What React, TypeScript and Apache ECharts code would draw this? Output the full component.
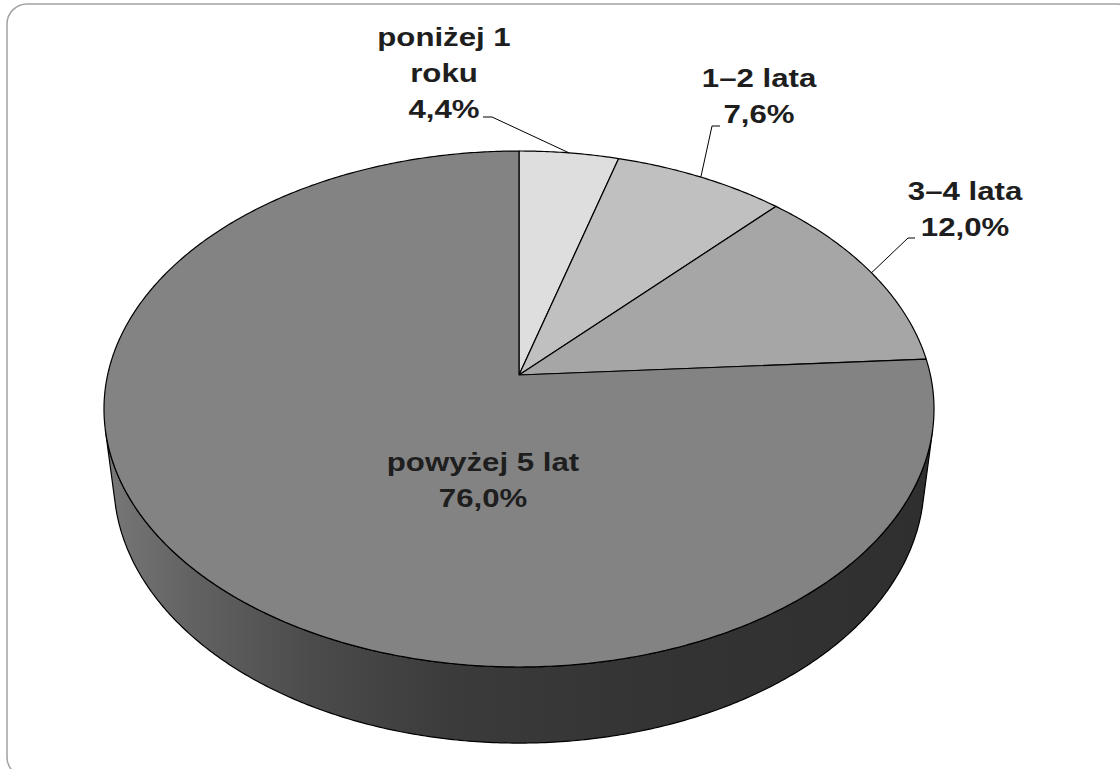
import React, { useEffect, useRef } from "react";
import * as echarts from "echarts";

// ---- data ----
const categories = ["poniżej 1\nroku", "1–2 lata", "3–4 lata", "powyżej 5 lat"];
const values = [4.4, 7.6, 12.0, 76.0];
const valueLabels = ["4,4%", "7,6%", "12,0%", "76,0%"];

// ---- styles / layout ----
const sliceColors = ["#dedede", "#c0c0c0", "#a6a6a6", "#838383"];
const labelCenters = [
  [444, 73],
  [759, 96],
  [965, 209],
  [483, 480],
];
const leaderElbows: (number[][] | null)[] = [
  [[483, 117], [492, 117]],
  [[720, 126], [712, 126]],
  [[915, 238], [908, 238]],
  null,
];

// ---- projection of a 3D disc (perspective camera) ----
const CX = 519;
const CY = 375;
const SIN_A = 0.6162;
const COS_A = 0.7876;
const Z0 = 5.976;
const F = 2458.5;
const DEPTH = 0.231;

function project(theta: number, bottom: boolean): number[] {
  const u = Math.sin(theta);
  const v = -Math.cos(theta);
  const yy = bottom ? -DEPTH : 0;
  const zc = Z0 - yy * SIN_A - v * COS_A;
  return [CX + (F * u) / zc, CY + (F * (v * SIN_A - yy * COS_A)) / zc];
}

function arc(a0: number, a1: number, bottom: boolean): number[][] {
  const pts: number[][] = [];
  const n = Math.max(2, Math.ceil(Math.abs(a1 - a0) / (Math.PI / 360)));
  for (let i = 0; i <= n; i++) {
    pts.push(project(a0 + ((a1 - a0) * i) / n, bottom));
  }
  return pts;
}

function sliceAngles(i: number): [number, number] {
  const total = values.reduce((s, x) => s + x, 0);
  let acc = 0;
  for (let j = 0; j < i; j++) acc += values[j];
  const a0 = (acc / total) * Math.PI * 2;
  const a1 = ((acc + values[i]) / total) * Math.PI * 2;
  return [a0, a1];
}

const FONT = 'bold 26px "Liberation Sans", Arial, sans-serif';

export default function App() {
  const ref = useRef<HTMLDivElement>(null);
  useEffect(() => {
    if (!ref.current) return;
    const chart = echarts.init(ref.current, undefined, { renderer: "svg" });

    // silhouette of the cylinder side
    const vSil = 1 / (Z0 * COS_A);
    const tR = Math.acos(-vSil);
    const tL = Math.PI * 2 - tR;

    const renderSide = () => {
      const top = arc(tR, tL, false);
      const bot = arc(tL, tR, true);
      return {
        type: "polygon",
        shape: { points: top.concat(bot) },
        style: {
          fill: {
            type: "linear",
            x: 0,
            y: 0,
            x2: 1,
            y2: 0,
            colorStops: [
              { offset: 0, color: "#787878" },
              { offset: 0.1, color: "#636363" },
              { offset: 0.25, color: "#4b4b4b" },
              { offset: 0.42, color: "#3b3b3b" },
              { offset: 0.65, color: "#343434" },
              { offset: 1, color: "#2f2f2f" },
            ],
          },
          stroke: "#000",
          lineWidth: 1.2,
          lineJoin: "round",
        },
      };
    };

    const renderSlice = (params: any) => {
      const i = params.dataIndex;
      const [a0, a1] = sliceAngles(i);
      const pts = [[CX, CY]].concat(arc(a0, a1, false));
      return {
        type: "polygon",
        shape: { points: pts },
        style: {
          fill: sliceColors[i],
          stroke: "#000",
          lineWidth: 1.2,
          lineJoin: "round",
        },
      };
    };

    const renderLabel = (params: any) => {
      const i = params.dataIndex;
      const [a0, a1] = sliceAngles(i);
      const edge = project((a0 + a1) / 2, false);
      const children: any[] = [];
      const elb = leaderElbows[i];
      if (elb) {
        children.push({
          type: "polyline",
          shape: { points: [elb[0], elb[1], edge] },
          style: { stroke: "#000", lineWidth: 1, fill: null },
        });
      }
      children.push({
        type: "text",
        x: labelCenters[i][0],
        y: labelCenters[i][1],
        scaleX: 1.2,
        style: {
          text: categories[i] + "\n" + valueLabels[i],
          x: 0,
          y: 0,
          align: "center",
          verticalAlign: "middle",
          font: FONT,
          lineHeight: 36,
          fill: "#1e1e1e",
        },
      });
      return { type: "group", children };
    };

    chart.setOption({
      animation: false,
      backgroundColor: "#ffffff",
      graphic: [
        {
          type: "rect",
          shape: { x: 7, y: 4, width: 1130, height: 773, r: 20 },
          style: { fill: null, stroke: "#a3a3a3", lineWidth: 1.5 },
          z: 0,
        },
      ],
      series: [
        {
          type: "custom",
          coordinateSystem: "none",
          data: [0],
          renderItem: renderSide,
          z: 1,
          silent: true,
        },
        {
          type: "custom",
          coordinateSystem: "none",
          data: values,
          renderItem: renderSlice,
          z: 2,
          silent: true,
        },
        {
          type: "custom",
          coordinateSystem: "none",
          data: values,
          renderItem: renderLabel,
          z: 3,
          silent: true,
        },
      ],
    });
    return () => chart.dispose();
  }, []);

  return (
    <div
      ref={ref}
      style={{ position: "fixed", left: 0, top: 0, width: 1120, height: 769 }}
    />
  );
}
